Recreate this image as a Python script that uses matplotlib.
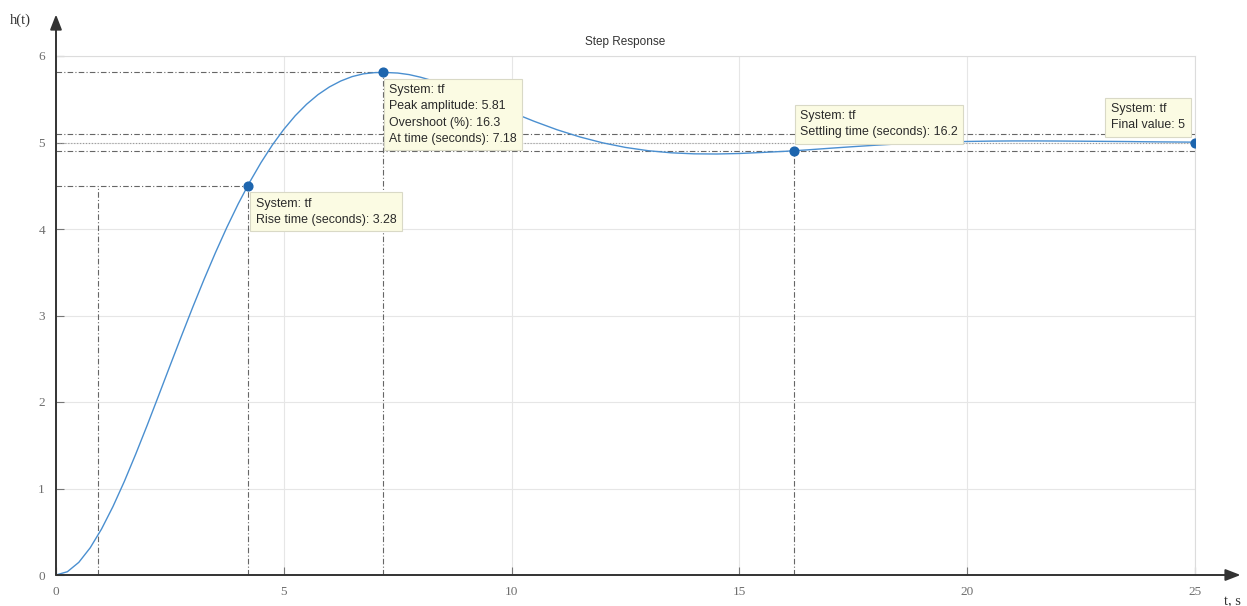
import matplotlib.pyplot as plt

# step response h(t) of the system, sampled off the plot
time_s = [0.0, 0.25, 0.5, 0.75, 1.0, 1.25, 1.5, 1.75, 2.0, 2.25, 2.5, 2.75,
          3.0, 3.25, 3.5, 3.75, 4.0, 4.25, 4.5, 4.75, 5.0, 5.25, 5.5, 5.75,
          6.0, 6.25, 6.5, 6.75, 7.0, 7.18, 7.25, 7.5, 7.75, 8.0, 8.25, 8.5,
          8.75, 9.0, 9.25, 9.5, 10.0, 10.5, 11.0, 11.5, 12.0, 12.5, 13.0,
          13.5, 14.0, 14.5, 15.0, 15.5, 16.0, 16.5, 17.0, 17.5, 18.0, 18.5,
          19.0, 19.5, 20.0, 20.5, 21.0, 21.5, 22.0, 22.5, 23.0, 23.5, 24.0,
          24.5, 25.0]
response = [0.000, 0.038, 0.146, 0.314, 0.532, 0.791, 1.082, 1.398, 1.729,
            2.071, 2.416, 2.758, 3.094, 3.418, 3.727, 4.019, 4.291, 4.541,
            4.768, 4.972, 5.152, 5.309, 5.442, 5.553, 5.642, 5.711, 5.762,
            5.794, 5.808, 5.810, 5.809, 5.803, 5.785, 5.755, 5.717, 5.673,
            5.625, 5.572, 5.518, 5.462, 5.350, 5.244, 5.147, 5.064, 4.996,
            4.943, 4.905, 4.881, 4.869, 4.867, 4.873, 4.885, 4.898, 4.915,
            4.934, 4.952, 4.969, 4.984, 4.996, 5.005, 5.012, 5.016, 5.018,
            5.018, 5.017, 5.015, 5.013, 5.011, 5.008, 5.006, 5.004]

# characteristics
final_value = 5
t_10 = 0.93
rise_time = 3.28
peak_time = 7.18
peak_amp = 5.81
overshoot = 16.3
settling_time = 16.2
settling_y = 4.9
band = 0.02 * final_value

x_ticks = [0, 5, 10, 15, 20, 25]
y_ticks = [0, 1, 2, 3, 4, 5, 6]

W, H = 1247, 606
fig = plt.figure(figsize=(W / 100, H / 100), dpi=100)
ax = fig.add_axes([56 / W, 31 / H, 1139 / W, 519 / H])

line_col = "#4a8fd0"
dot_col = "#1d65ae"
char_col = "#666666"
tick_font = dict(family="Liberation Serif", size=9.5, color="#6e6e6e")

ax.set_xlim(0, 25)
ax.set_ylim(0, 6)
ax.set_xticks(x_ticks)
ax.set_yticks(y_ticks)
ax.set_xticklabels([str(v) for v in x_ticks], fontdict=tick_font)
ax.set_yticklabels([str(v) for v in y_ticks], fontdict=tick_font)
ax.tick_params(direction="in", length=6, width=0.8, color="#777777", pad=8)
ax.grid(True, color="#e6e6e6", linewidth=0.8)
ax.set_axisbelow(True)
for side in ["left", "bottom"]:
    ax.spines[side].set_visible(False)
for side in ["top", "right"]:
    ax.spines[side].set_color("#dcdcdc")
    ax.spines[side].set_linewidth(0.8)

ax.set_title("Step Response", fontsize=8.5, color="#333333",
             family="Liberation Sans", pad=8)

# characteristic guide lines
dash = dict(color=char_col, linewidth=0.8, linestyle=(0, (5, 2, 1, 2)))
t_90 = t_10 + rise_time
ax.plot([0, t_90], [0.9 * final_value] * 2, **dash)
ax.plot([t_10, t_10], [0, 0.9 * final_value], **dash)
ax.plot([t_90, t_90], [0, 0.9 * final_value], **dash)
ax.plot([0, peak_time], [peak_amp, peak_amp], **dash)
ax.plot([peak_time, peak_time], [0, peak_amp], **dash)
ax.plot([settling_time, settling_time], [0, settling_y], **dash)
ax.plot([0, 25], [final_value + band] * 2, **dash)
ax.plot([0, 25], [final_value - band] * 2, **dash)
ax.plot([0, 25], [final_value] * 2, color="#9a9a9a", linewidth=0.8,
        linestyle=":")

ax.plot(time_s, response, color=line_col, linewidth=1.0, zorder=3)

marks_x = [t_90, peak_time, settling_time, 25]
marks_y = [0.9 * final_value, peak_amp, settling_y, final_value]
ax.plot(marks_x, marks_y, "o", color=dot_col, markersize=6.3, zorder=5)

tip = dict(boxstyle="square,pad=0.45", facecolor="#fbfbe3",
           edgecolor="#d9d9c6", linewidth=0.8)
tip_font = dict(fontsize=8.9, family="Liberation Sans", color="#2a2a2a",
                linespacing=1.45, multialignment="left")


def datatip(x, y, text, dx, dy, ha="left", va="top"):
    ax.annotate(text, xy=(x, y), xytext=(dx, dy), textcoords="offset pixels",
                ha=ha, va=va, bbox=tip, zorder=6, annotation_clip=False,
                **tip_font)


datatip(t_90, 0.9 * final_value,
        f"System: tf\nRise time (seconds): {rise_time}", 8, -12)
datatip(peak_time, peak_amp,
        f"System: tf\nPeak amplitude: {peak_amp}\nOvershoot (%): {overshoot}"
        f"\nAt time (seconds): {peak_time}", 6, -12)
datatip(settling_time, settling_y,
        f"System: tf\nSettling time (seconds): {settling_time}", 6, 41)
datatip(25, final_value, f"System: tf\nFinal value: {final_value}", -10, 11,
        ha="right", va="bottom")

# axes drawn as arrows
arrow = dict(arrowstyle="-|>,head_length=0.9,head_width=0.35",
             color="#333333", linewidth=1.4, shrinkA=0, shrinkB=0)
ax.annotate("", xy=(26.0, 0), xytext=(0, 0), arrowprops=arrow,
            annotation_clip=False, zorder=7)
ax.annotate("", xy=(0, 6.48), xytext=(0, 0), arrowprops=arrow,
            annotation_clip=False, zorder=7)

fig.text(10 / W, 1 - 20 / H, "h(t)", family="Liberation Serif", fontsize=10.5,
         color="#333333", va="center", ha="left")
fig.text(1224 / W, 1 - 595 / H, "t, s", family="Liberation Serif",
         fontsize=10.5, color="#333333", va="top", ha="left")

fig.savefig("out.png", dpi=100)
